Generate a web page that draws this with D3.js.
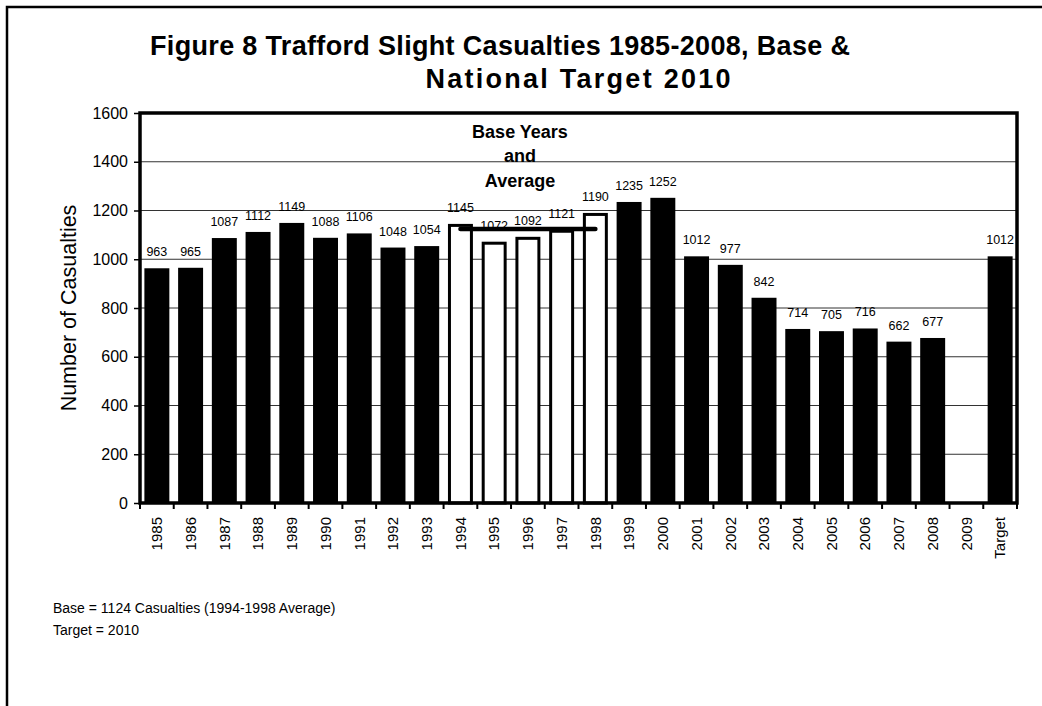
<!DOCTYPE html>
<html><head><meta charset="utf-8">
<script src="https://cdn.jsdelivr.net/npm/d3@7"></script>
<style>body{margin:0;background:#fff}svg{display:block}text{font-family:"Liberation Sans",Arial,sans-serif}</style>
</head><body>
<script>
const categories = ["1985","1986","1987","1988","1989","1990","1991","1992","1993","1994","1995","1996","1997","1998","1999","2000","2001","2002","2003","2004","2005","2006","2007","2008","2009","Target"];
const casualties = [963,965,1087,1112,1149,1088,1106,1048,1054,1145,1072,1092,1121,1190,1235,1252,1012,977,842,714,705,716,662,677,null,1012];
const baseYears = ["1994","1995","1996","1997","1998"];
const baseAverage = 1124;
const yTicks = [0,200,400,600,800,1000,1200,1400,1600];
const titleLines = ["Figure 8 Trafford Slight Casualties 1985-2008, Base &","National Target 2010"];
const annotationLines = ["Base Years","and","Average"];
const footnotes = ["Base = 1124 Casualties (1994-1998 Average)","Target = 2010"];

const W = 1042, H = 706;
const svg = d3.select("body").append("svg").attr("width", W).attr("height", H);

// outer frame (right/bottom off canvas)
svg.append("rect").attr("x",7).attr("y",7).attr("width",1200).attr("height",900)
  .attr("fill","none").attr("stroke","#000").attr("stroke-width",2.5);

const L = 140, R = 1017, T = 113, B = 503;
const slots = d3.scaleBand().domain(categories).range([L,R]).padding(0);
const x = d3.scaleBand().domain(categories).range([L,R]).paddingInner(0.26).paddingOuter(0.13);
const y = d3.scaleLinear().domain([0,1600]).range([B,T]);

// gridlines
svg.append("g").selectAll("line").data(yTicks.filter(v=>v>0 && v<1600)).join("line")
  .attr("x1",L).attr("x2",R).attr("y1",d=>y(d)).attr("y2",d=>y(d))
  .attr("stroke","#333").attr("stroke-width",1);

// y axis
const yAxis = svg.append("g").attr("transform",`translate(${L},0)`)
  .call(d3.axisLeft(y).tickValues(yTicks).tickFormat(d3.format("d")).tickSize(6).tickPadding(6));
yAxis.select(".domain").remove();
yAxis.selectAll(".tick line").attr("stroke","#000").attr("stroke-width",1.5);
yAxis.selectAll("text").attr("font-size",16).attr("fill","#000")
  .style("font-family","'Liberation Sans',Arial,sans-serif");

// x axis ticks at slot boundaries
const bounds = categories.map(c=>slots(c)).concat([R]);
svg.append("g").selectAll("line").data(bounds).join("line")
  .attr("x1",d=>d).attr("x2",d=>d).attr("y1",B).attr("y2",B+6)
  .attr("stroke","#000").attr("stroke-width",2);

// x labels
svg.append("g").selectAll("text").data(categories).join("text")
  .attr("transform",d=>`translate(${slots(d)+slots.bandwidth()/2},517) rotate(-90)`)
  .attr("text-anchor","end").attr("dy","0.35em").attr("font-size",15).text(d=>d);

// bars
const data = categories.map((c,i)=>({c, v:casualties[i], base: baseYears.includes(c)}));
svg.append("g").selectAll("rect").data(data.filter(d=>d.v!=null)).join("rect")
  .attr("x",d=>d.base? x(d.c)+1.5 : x(d.c))
  .attr("width",d=>d.base? x.bandwidth()-3 : x.bandwidth())
  .attr("y",d=>d.base? y(d.v)+1.5 : y(d.v))
  .attr("height",d=>d.base? B-y(d.v)-1.5 : B-y(d.v))
  .attr("fill",d=>d.base?"#fff":"#000")
  .attr("stroke",d=>d.base?"#000":"none").attr("stroke-width",3);

// data labels
svg.append("g").selectAll("text").data(data.filter(d=>d.v!=null)).join("text")
  .attr("x",d=>x(d.c)+x.bandwidth()/2).attr("y",d=>y(d.v)-12)
  .attr("text-anchor","middle").attr("font-size",12.5).text(d=>d.v);

// average line
const line = d3.line().x(d=>x(d)+x.bandwidth()/2).y(()=>y(baseAverage));
svg.append("path").datum(baseYears).attr("d",line).attr("fill","none")
  .attr("stroke","#000").attr("stroke-width",4.5).attr("stroke-linecap","round");

// plot frame
svg.append("rect").attr("x",L).attr("y",T).attr("width",R-L).attr("height",B-T)
  .attr("fill","none").attr("stroke","#000").attr("stroke-width",3.5);

// annotation
svg.append("g").selectAll("text").data(annotationLines).join("text")
  .attr("x",520).attr("y",(d,i)=>[138,162,187][i]).attr("text-anchor","middle")
  .attr("font-size",18).attr("font-weight","bold").text(d=>d);

// title
svg.append("g").selectAll("text").data(titleLines).join("text")
  .attr("x",(d,i)=>[500,578][i]).attr("y",(d,i)=>[55,88][i]).attr("text-anchor","middle")
  .attr("font-size",27).attr("font-weight","bold")
  .attr("textLength",(d,i)=>[700,305][i]).attr("lengthAdjust","spacing").text(d=>d);

// y title
svg.append("text").attr("transform","translate(76,308) rotate(-90)")
  .attr("text-anchor","middle").attr("font-size",21.5).text("Number of Casualties");

// footnotes
svg.append("g").selectAll("text").data(footnotes).join("text")
  .attr("x",53).attr("y",(d,i)=>[613,635][i]).attr("font-size",14).text(d=>d);
</script>
</body></html>
